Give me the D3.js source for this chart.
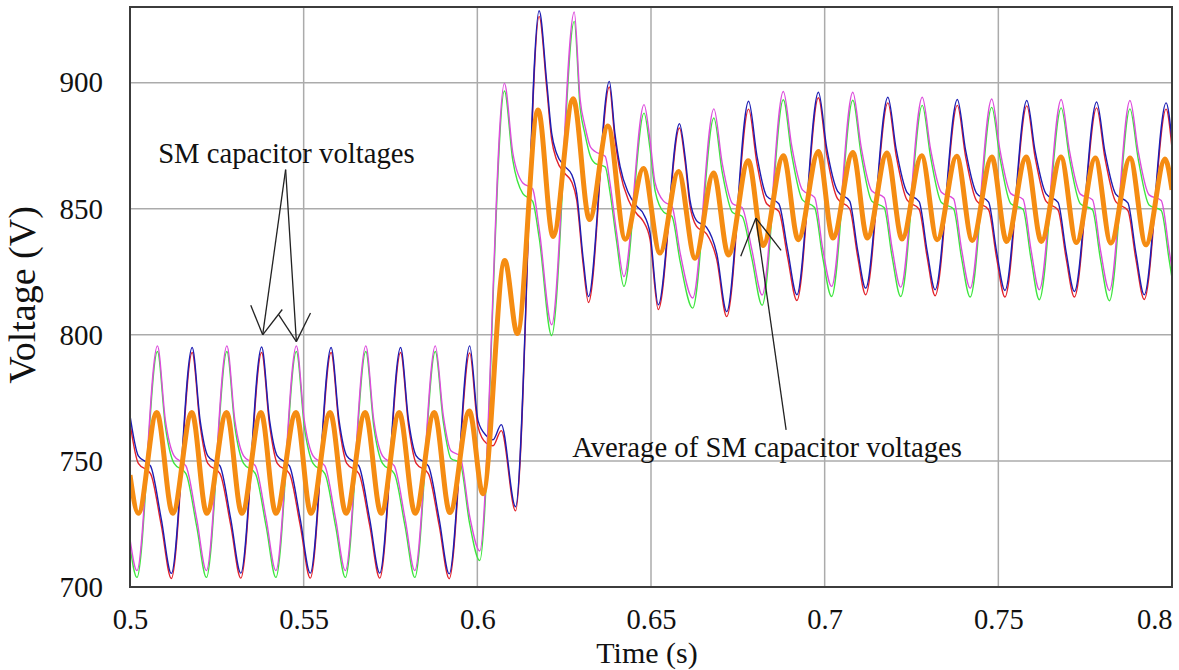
<!DOCTYPE html>
<html lang="en">
<head>
  <meta charset="UTF-8" />
  <title>SM capacitor voltages</title>
  <style>
    body { margin: 0; background: #fff; }
    text { font-family: "Liberation Serif", "Times New Roman", serif; fill: #111; }
  </style>
  <script src="https://d3js.org/d3.v7.min.js"></script>
</head>
<body>
<script>
// upper group (blue / red) share the same sample times
const tPhaseA = [0.5000,0.5024,0.5059,0.5090,0.5119,0.5179,0.5202,0.5224,0.5259,0.5290,
  0.5319,0.5379,0.5402,0.5424,0.5459,0.5490,0.5519,0.5579,0.5602,0.5624,
  0.5659,0.5690,0.5719,0.5779,0.5802,0.5824,0.5859,0.5890,0.5919,0.5978,
  0.6002,0.6026,0.6045,0.6069,0.6110,0.6178,0.6200,0.6214,0.6228,0.6252,
  0.6272,0.6286,0.6305,0.6320,0.6380,0.6396,0.6411,0.6435,0.6459,0.6478,
  0.6497,0.6521,0.6582,0.6598,0.6612,0.6631,0.6660,0.6689,0.6718,0.6781,
  0.6805,0.6833,0.6868,0.6893,0.6920,0.6982,0.7006,0.7037,0.7072,0.7095,
  0.7118,0.7182,0.7206,0.7237,0.7272,0.7295,0.7318,0.7382,0.7406,0.7437,
  0.7472,0.7495,0.7519,0.7582,0.7606,0.7637,0.7672,0.7695,0.7719,0.7783,
  0.7807,0.7838,0.7873,0.7896,0.7920,0.7983,0.8000];
const blueV = [768,752,748,727,705.4,795,766,752,748,727,
  705.5,795.2,766,752,748,727,705.5,795,766,752,
  748,727,705.5,795,766,752,748,727,705.2,795.6,
  766,760,758.4,764.4,731.8,928.5,899.9,880,872,866.8,
  863.5,856.2,829.8,815.2,900.5,880,866.8,856.2,851,848,
  840.5,811.9,883.7,870.8,853.6,845.3,842.6,832.4,809.2,892.6,
  871,855,852,834,815.9,896.2,874,857,853,833.5,
  818.5,894.2,873.5,856.5,852.8,833.3,817.9,893.3,873,856.2,
  852.6,833,817.6,892.9,872.8,856,852.5,833,817.2,892.3,
  872.5,855.8,852.3,832.5,815.9,892,877];
const redV = [765,749,745,724.5,703.4,793,764,749,745,724.5,
  703.5,793,764,749,745,724.5,703.5,793,764,749,
  745,724.5,703.5,793,764,749,745,724.5,703.3,792.8,
  763.5,757,756,762,730.2,926.3,897.5,877.5,869.5,864,
  860.5,853.5,827.5,812.8,898.3,877.8,864.5,853.5,848,845,
  838,810,882,868.8,851.5,843,840,830,807.2,889.5,
  868,852,849,831,813.6,894,871.5,854,850,831,
  815.9,892,871,853.5,849.8,830.8,815.5,891,870.5,853.2,
  849.6,830.5,815,890.8,870.3,853,849.5,830.5,815,890,
  870,852.8,849.3,830,814,889.5,874];

// lower group (magenta / green) share the same sample times
const tPhaseB = [0.5000,0.5020,0.5079,0.5102,0.5127,0.5161,0.5192,0.5220,0.5279,0.5302,
  0.5327,0.5361,0.5392,0.5420,0.5479,0.5502,0.5527,0.5561,0.5592,0.5620,
  0.5679,0.5702,0.5727,0.5761,0.5792,0.5820,0.5879,0.5902,0.5924,0.5950,
  0.5978,0.6007,0.6078,0.6102,0.6131,0.6159,0.6178,0.6214,0.6279,0.6296,
  0.6310,0.6325,0.6339,0.6368,0.6382,0.6401,0.6422,0.6480,0.6497,0.6512,
  0.6537,0.6560,0.6584,0.6620,0.6681,0.6705,0.6735,0.6762,0.6790,0.6820,
  0.6881,0.6905,0.6936,0.6971,0.6994,0.7020,0.7081,0.7105,0.7136,0.7171,
  0.7194,0.7219,0.7281,0.7305,0.7336,0.7371,0.7394,0.7419,0.7481,0.7505,
  0.7536,0.7571,0.7594,0.7618,0.7681,0.7705,0.7736,0.7771,0.7794,0.7820,
  0.7879,0.7903,0.7934,0.7969,0.7992,0.8000];
const magentaV = [719,706.5,795.6,766,752,748,727,706.5,795.6,766,
  752,748,727,706.5,795.6,766,752,748,727,706.5,
  795.6,766,752,748,727,706.5,795.6,768,754,752,
  728,714.3,899.7,872.3,860.2,857.9,842,804,928,893.3,
  882.7,874.7,872.7,870.8,860.2,840.4,823.1,891.3,877.4,860.2,
  852.9,851,832.4,814.6,889.6,868,852,850.5,834,815.8,
  896.5,875,857.5,854.5,834.5,819.2,896.2,874.5,857,854.5,
  834.5,818.9,894.2,873.5,856.5,854,834,818.5,893.5,873,
  856,853.8,833.8,817.9,893.3,872.8,855.8,853.6,833.6,817.6,
  892.9,872.5,855.5,853.3,833.3,826];
const greenV = [716,703.8,793.4,763.5,749,745,724,703.8,793.4,763.5,
  749,745,724,703.8,793.4,763.5,749,745,724,703.8,
  793.4,763.5,749,745,724,703.8,793.4,765.5,751,749.3,
  725,710.5,896.7,869.3,856,853,838.5,799.7,924.3,890,
  879.5,871,868,866.6,856.5,837,819.2,887.9,874,857,
  848.6,847,829,810.6,886,864.5,848.5,847,830.5,811.7,
  893.2,871.5,853.5,850.5,831,815.2,893,871.5,853,850.5,
  831,815.2,891,870.5,852.5,850,830.5,815,890.2,870,
  852,849.8,830.2,813.9,890,869.8,852,849.6,830,813.5,
  889.6,869.5,851.5,849.3,829.5,822.5];

// average of SM capacitor voltages (extrema)
const tAvg = [0.5000,0.5024,0.5077,0.5123,0.5178,0.5221,0.5278,0.5322,0.5377,0.5420,
  0.5478,0.5521,0.5576,0.5622,0.5677,0.5723,0.5775,0.5821,0.5876,0.5921,
  0.5977,0.6016,0.6079,0.6115,0.6175,0.6218,0.6276,0.6323,0.6376,0.6426,
  0.6478,0.6526,0.6579,0.6627,0.6680,0.6723,0.6780,0.6823,0.6881,0.6924,
  0.6982,0.7024,0.7081,0.7123,0.7179,0.7223,0.7279,0.7324,0.7380,0.7425,
  0.7481,0.7524,0.7580,0.7624,0.7680,0.7725,0.7779,0.7824,0.7879,0.7925,
  0.7980,0.8000];
const avgV = [744.4,729.2,769.2,729.2,769.2,729.2,769.2,729.2,769.2,729.2,
  769.2,729.2,769.2,729.2,769.2,729.2,769.2,729.2,769.2,729.5,
  769.8,737,829.5,800.5,889.2,839,893.6,845.7,882.8,837.9,
  866,832.4,864.8,830.4,864.2,831.7,869,835.4,871,837.7,
  872.7,838.4,872.3,838.4,872.1,838,871,837.7,870.8,837.4,
  870.5,837,870.5,837,870.5,836.6,870.1,836.4,870.1,835.7,
  869.7,857.5];

const xTicks = [0.5, 0.55, 0.6, 0.65, 0.7, 0.75, 0.8];
const yTicks = [700, 750, 800, 850, 900];

// annotation anchors in data units
const smLabel = { t: 0.5081, v: 868.3, text: "SM capacitor voltages" };
const smArrowFrom = { t: 0.5448, v: 865.5 };
const smArrowTips = [{ t: 0.5382, v: 800 }, { t: 0.5479, v: 797.3 }];
const avgLabel = { t: 0.6273, v: 751.6, text: "Average of SM capacitor voltages" };
const avgArrowFrom = { t: 0.6889, v: 762.3 };
const avgArrowTip = { t: 0.6802, v: 846.3 };

const W = 1179, H = 670;
const margin = { top: 7, right: 7, bottom: 83, left: 130 };
const width = W - margin.left - margin.right;
const height = H - margin.top - margin.bottom;

const svg = d3.select("body").append("svg")
  .attr("width", W)
  .attr("height", H);

const g = svg.append("g")
  .attr("transform", "translate(" + margin.left + "," + margin.top + ")");

const x = d3.scaleLinear().domain([0.5, 0.8]).range([0, width]);
const y = d3.scaleLinear().domain([700, 930]).range([height, 0]);

// grid
g.append("g").selectAll("line")
  .data(xTicks.slice(1, -1))
  .enter().append("line")
  .attr("x1", d => x(d)).attr("x2", d => x(d))
  .attr("y1", 0).attr("y2", height)
  .attr("stroke", "#ababab").attr("stroke-width", 1.5);

g.append("g").selectAll("line")
  .data(yTicks.slice(1))
  .enter().append("line")
  .attr("x1", 0).attr("x2", width)
  .attr("y1", d => y(d)).attr("y2", d => y(d))
  .attr("stroke", "#ababab").attr("stroke-width", 1.5);

// tick labels
const xAxis = d3.axisBottom(x).tickValues(xTicks).tickSize(0).tickPadding(22)
  .tickFormat(d3.format("~g"));
const xg = g.append("g")
  .attr("transform", "translate(0," + height + ")")
  .call(xAxis);
xg.select(".domain").remove();
xg.selectAll("text")
  .attr("font-size", 28.5)
  .attr("font-family", "Liberation Serif, serif")
  .attr("fill", "#111");
xg.selectAll(".tick").filter(d => d === 0.8).select("text")
  .attr("text-anchor", "end").attr("x", 0);

const yAxis = d3.axisLeft(y).tickValues(yTicks).tickSize(0).tickPadding(27);
const yg = g.append("g").call(yAxis);
yg.select(".domain").remove();
yg.selectAll("text")
  .attr("font-size", 29)
  .attr("font-family", "Liberation Serif, serif")
  .attr("fill", "#111");

// axis titles
svg.append("text")
  .attr("x", 647)
  .attr("y", 663)
  .attr("text-anchor", "middle")
  .attr("font-size", 30)
  .text("Time (s)");

svg.append("text")
  .attr("transform", "translate(35,295) rotate(-90)")
  .attr("text-anchor", "middle")
  .attr("font-size", 38)
  .text("Voltage (V)");

// waveforms
g.append("clipPath").attr("id", "plotClip")
  .append("rect").attr("width", width).attr("height", height);

const plot = g.append("g").attr("clip-path", "url(#plotClip)");

const line = d3.line()
  .x(d => x(d[0]))
  .y(d => y(d[1]))
  .curve(d3.curveMonotoneX);

const series = [
  { t: tPhaseA, v: redV, color: "#e3232b", w: 1.4 },
  { t: tPhaseB, v: greenV, color: "#3ee63e", w: 1.4 },
  { t: tPhaseA, v: blueV, color: "#1d1db3", w: 1.4 },
  { t: tPhaseB, v: magentaV, color: "#dc4cdc", w: 1.4 },
  { t: tAvg, v: avgV, color: "#f58c12", w: 5 }
];

series.forEach(s => {
  plot.append("path")
    .datum(s.t.map((t, i) => [t, s.v[i]]))
    .attr("d", line)
    .attr("fill", "none")
    .attr("stroke", s.color)
    .attr("stroke-width", s.w)
    .attr("stroke-linejoin", "round");
});

// frame
g.append("rect")
  .attr("width", width).attr("height", height)
  .attr("fill", "none")
  .attr("stroke", "#3c3c3c")
  .attr("stroke-width", 2);

// annotations
function arrow(from, tip, len) {
  const fx = x(from.t), fy = y(from.v), tx = x(tip.t), ty = y(tip.v);
  const ang = Math.atan2(fy - ty, fx - tx);
  const a = g.append("g").attr("stroke", "#222").attr("stroke-width", 1.3).attr("fill", "none");
  a.append("line").attr("x1", fx).attr("y1", fy).attr("x2", tx).attr("y2", ty);
  [-0.52, 0.52].forEach(da => {
    a.append("line")
      .attr("x1", tx).attr("y1", ty)
      .attr("x2", tx + len * Math.cos(ang + da))
      .attr("y2", ty + len * Math.sin(ang + da));
  });
}

g.append("text")
  .attr("x", x(smLabel.t)).attr("y", y(smLabel.v))
  .attr("font-size", 28.7)
  .text(smLabel.text);
smArrowTips.forEach(tip => arrow(smArrowFrom, tip, 32));

g.append("text")
  .attr("x", x(avgLabel.t)).attr("y", y(avgLabel.v))
  .attr("font-size", 28.7)
  .text(avgLabel.text);
arrow(avgArrowFrom, avgArrowTip, 41);
</script>
</body>
</html>
